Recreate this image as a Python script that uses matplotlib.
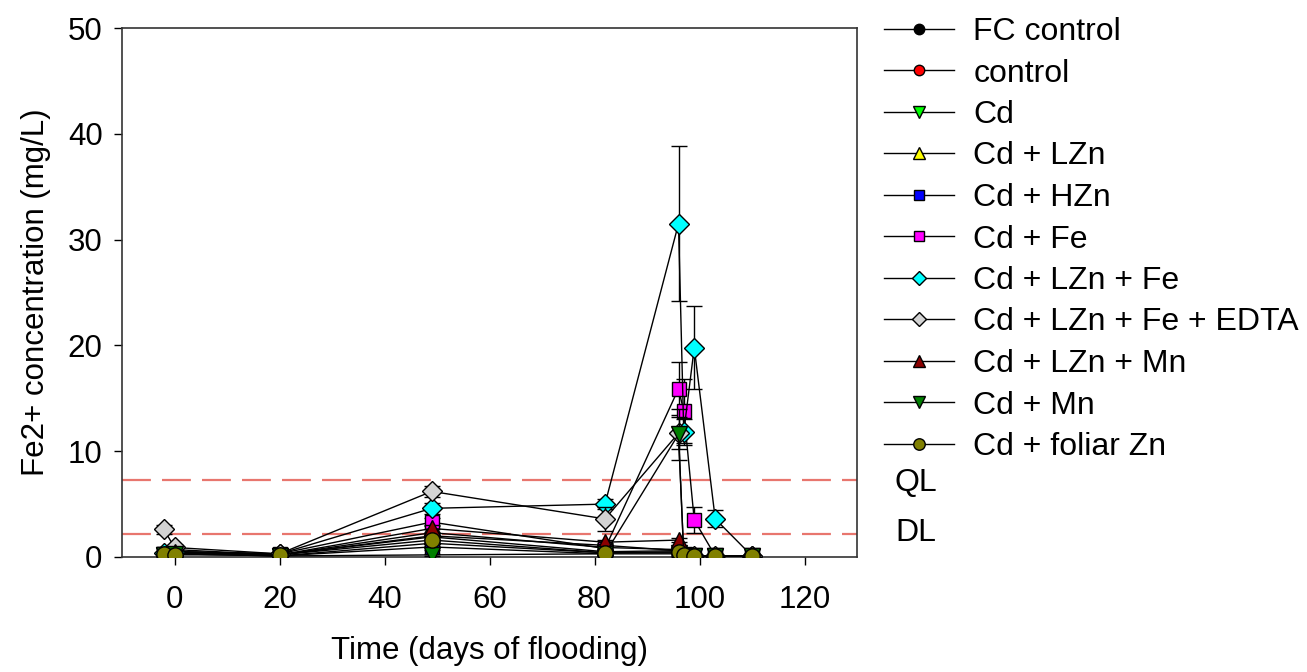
import matplotlib
matplotlib.use("Agg")
import matplotlib.pyplot as plt
from matplotlib.lines import Line2D

plt.rcParams['font.family'] = ['Liberation Sans', 'DejaVu Sans']

# Sampling days (days of flooding)
days = [-2, 0, 20, 49, 82, 96, 97, 99, 103, 110]

# Fe2+ concentration means (mg/L) per treatment
fc_control = [0.4, 0.7, 0.2, 1.9, 0.5, 0.6, 0.2, 0.1, 0.1, 0.1]
control = [0.3, 0.5, 0.2, 2.3, 0.9, 0.7, 0.2, 0.1, 0.1, 0.1]
cd = [0.2, 0.4, 0.1, 1.3, 0.4, 0.4, 0.1, 0.1, 0.1, 0.1]
cd_lzn = [0.2, 0.4, 0.2, 2.0, 1.1, 0.6, 0.1, 0.1, 0.1, 0.1]
cd_hzn = [0.2, 0.3, 0.1, 0.95, 0.3, 0.3, 0.1, 0.1, 0.1, 0.1]
cd_fe = [0.3, 0.5, 0.3, 3.3, 0.8, 15.9, 13.8, 3.5, 0.1, 0.1]
cd_lzn_fe = [0.4, 0.5, 0.3, 4.6, 5.0, 31.5, 11.8, 19.8, 3.6, 0.1]
cd_lzn_fe_edta = [2.6, 0.9, 0.3, 6.2, 3.6, 11.7, 0.2, 0.1, 0.1, 0.1]
cd_lzn_mn = [0.3, 0.5, 0.2, 2.7, 1.4, 1.6, 0.2, 0.1, 0.1, 0.1]
cd_mn = [0.2, 0.3, 0.1, 0.2, 0.3, 11.6, 0.2, 0.1, 0.1, 0.1]
cd_foliar_zn = [0.3, 0.2, 0.2, 1.6, 0.4, 0.5, 0.2, 0.1, 0.1, 0.1]

# Standard errors
err_small = [0.1, 0.1, 0.1, 0.3, 0.2, 0.2, 0.1, 0.1, 0.1, 0.1]
err_cd_fe = [0.1, 0.1, 0.1, 0.4, 0.3, 2.5, 3.0, 1.2, 0.1, 0.1]
err_cd_lzn_fe = [0.1, 0.1, 0.1, 0.5, 0.5, 7.3, 1.2, 3.9, 0.8, 0.1]
err_edta = [0.4, 0.2, 0.1, 0.5, 1.1, 1.5, 0.1, 0.1, 0.1, 0.1]
err_cd_mn = [0.1, 0.1, 0.1, 0.1, 0.1, 2.4, 0.1, 0.1, 0.1, 0.1]

# Detection / quantification limits (mg/L)
DL = 2.2
QL = 7.3

labels = ["FC control", "control", "Cd", "Cd + LZn", "Cd + HZn", "Cd + Fe",
          "Cd + LZn + Fe", "Cd + LZn + Fe + EDTA", "Cd + LZn + Mn", "Cd + Mn",
          "Cd + foliar Zn"]
series = [fc_control, control, cd, cd_lzn, cd_hzn, cd_fe, cd_lzn_fe,
          cd_lzn_fe_edta, cd_lzn_mn, cd_mn, cd_foliar_zn]
errors = [err_small, err_small, err_small, err_small, err_small, err_cd_fe,
          err_cd_lzn_fe, err_edta, err_small, err_cd_mn, err_small]
colors = ["#000000", "#FF0000", "#00FF00", "#FFFF00", "#0000FF", "#FF00FF",
          "#00FFFF", "#D3D3D3", "#8B0000", "#008000", "#808000"]
markers = ["o", "o", "v", "^", "s", "s", "D", "D", "^", "v", "o"]
msizes = [10, 10, 11, 11, 10, 10, 10, 10, 11, 11, 11]

W, H = 1307, 672
fig = plt.figure(figsize=(W / 100, H / 100), dpi=100)
ax = fig.add_axes([122 / W, 1 - 557 / H, (857 - 122) / W, (557 - 28) / H])

ax.axhline(QL, color="#E8766E", lw=1.6, ls=(0, (13, 5)), zorder=1)
ax.axhline(DL, color="#E8766E", lw=1.6, ls=(0, (13, 5)), zorder=1)

for i, (y, e, c, m, ms) in enumerate(zip(series, errors, colors, markers, msizes)):
    ax.errorbar(days, y, yerr=e, color="black", lw=1.0, marker=m,
                markersize=ms, markerfacecolor=c, markeredgecolor="black",
                markeredgewidth=1.0, ecolor="black", elinewidth=1.0,
                capsize=6, capthick=1.0, zorder=2 + i)

ax.set_xlim(-10, 130)
ax.set_ylim(0, 50)
ax.set_xticks([0, 20, 40, 60, 80, 100, 120])
ax.set_yticks([0, 10, 20, 30, 40, 50])
ax.tick_params(axis="both", direction="out", length=6, width=1.0,
               labelsize=22.5, colors="black")
ax.tick_params(axis="x", pad=14)
ax.tick_params(axis="y", pad=8)
for s in ax.spines.values():
    s.set_linewidth(1.2)
    s.set_color("#333333")

ax.set_xlabel("Time (days of flooding)", fontsize=22.5, labelpad=15)
ax.set_ylabel("Fe2+ concentration (mg/L)", fontsize=22.5, labelpad=12)

leg_handles = [Line2D([], [], color="black", lw=1.0, marker=m, markersize=ms * 0.75,
                      markerfacecolor=c, markeredgecolor="black", markeredgewidth=1.0)
               for c, m, ms in zip(colors, markers, msizes)]
fig.legend(leg_handles, labels, loc="upper left",
           bbox_to_anchor=(884 / W, 1 - 17 / H), frameon=False,
           fontsize=23, handlelength=2.2, handletextpad=0.6,
           labelspacing=0.36, borderpad=0, borderaxespad=0)

fig.text(895 / W, 1 - 483 / H, "QL", fontsize=23, va="center", ha="left")
fig.text(895 / W, 1 - 533 / H, "DL", fontsize=23, va="center", ha="left")

fig.savefig("out.png", dpi=100)
